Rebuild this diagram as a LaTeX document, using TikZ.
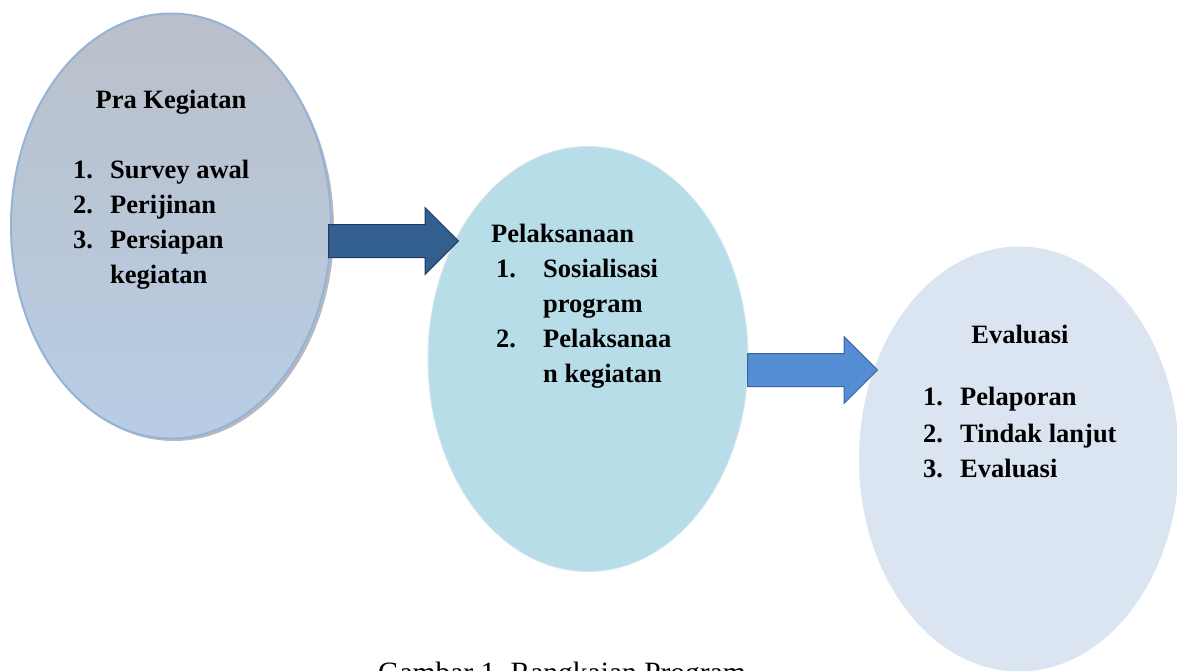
\documentclass[tikz,border=0pt]{standalone}
\usepackage{fontspec}
\setmainfont{Liberation Serif}
\usetikzlibrary{shapes.geometric,shapes.arrows}

\definecolor{praTop}{RGB}{186,192,202}
\definecolor{praBot}{RGB}{184,205,229}
\definecolor{praLine}{RGB}{149,179,215}
\definecolor{praShadow}{RGB}{150,156,166}
\definecolor{pelFill}{RGB}{183,221,232}
\definecolor{pelLine}{RGB}{212,228,238}
\definecolor{evaFill}{RGB}{219,229,241}
\definecolor{arDark}{RGB}{51,95,142}
\definecolor{arDarkLine}{RGB}{31,58,95}
\definecolor{arLight}{RGB}{85,142,213}
\definecolor{arLightLine}{RGB}{58,100,155}

\tikzset{
    bubble/.style={ellipse, inner sep=0pt, minimum width=320pt, minimum height=425pt},
    head/.style={font=\fontsize{26.5}{30}\selectfont\bfseries, inner sep=0pt, anchor=base},
    item/.style={font=\fontsize{26.5}{30}\selectfont\bfseries, inner sep=0pt, anchor=base west},
    blockarrow/.style={single arrow, inner xsep=0pt, inner ysep=16pt, minimum height=130pt,
        single arrow head extend=17pt, single arrow tip angle=90, anchor=tail, line width=1pt},
}

\begin{document}
\begin{tikzpicture}[x=1pt,y=-1pt]
        \useasboundingbox (0,0) rectangle (1177,670);

        % 三个椭圆
        \fill[praShadow, opacity=0.7] (174,229) ellipse (160 and 212);
        \node[bubble, top color=praTop, bottom color=praBot, draw=praLine, line width=2pt] (pra) at (171,226) {};
        \node[bubble, fill=pelFill, draw=pelLine, line width=1pt] (pel) at (588,359) {};
        \node[bubble, fill=evaFill] (eva) at (1019,459) {};

        % 箭头
        \node[blockarrow, fill=arDark, draw=arDarkLine] (ar1) at (328,241) {};
        \node[blockarrow, fill=arLight, draw=arLightLine] (ar2) at (747,370) {};

        % Pra Kegiatan
        \node[head] (praT) at (171,108) {Pra Kegiatan};
        \foreach \n/\t/\y [count=\i] in {1./Survey awal/178, 2./Perijinan/213, 3./Persiapan/248}
            {
                \node[item] (praN\i) at (73,\y) {\n};
                \node[item] (praI\i) at (110,\y) {\t};
            }
        \node[item] (praI4) at (110,283) {kegiatan};

        % Pelaksanaan
        \node[item] (pelT) at (491,242) {Pelaksanaan};
        \node[item] (pelN1) at (496,277) {1.};
        \node[item] (pelN2) at (496,347) {2.};
        \foreach \t/\y [count=\i] in {Sosialisasi/277, program/312, Pelaksanaa/347, n kegiatan/382}
            {
                \node[item] (pelI\i) at (543,\y) {\t};
            }

        % Evaluasi
        \node[head] (evaT) at (1020,343) {Evaluasi};
        \foreach \n/\t/\y [count=\i] in {1./Pelaporan/405, 2./Tindak lanjut/442, 3./Evaluasi/477}
            {
                \node[item] (evaN\i) at (923,\y) {\n};
                \node[item] (evaI\i) at (960,\y) {\t};
            }

        % 图题
        \node[inner sep=0pt, anchor=base west, font=\fontsize{29.5}{32}\selectfont] (cap) at (378,682) {Gambar 1.\hspace{8pt}Rangkaian Program};

    \end{tikzpicture}
\end{document}
